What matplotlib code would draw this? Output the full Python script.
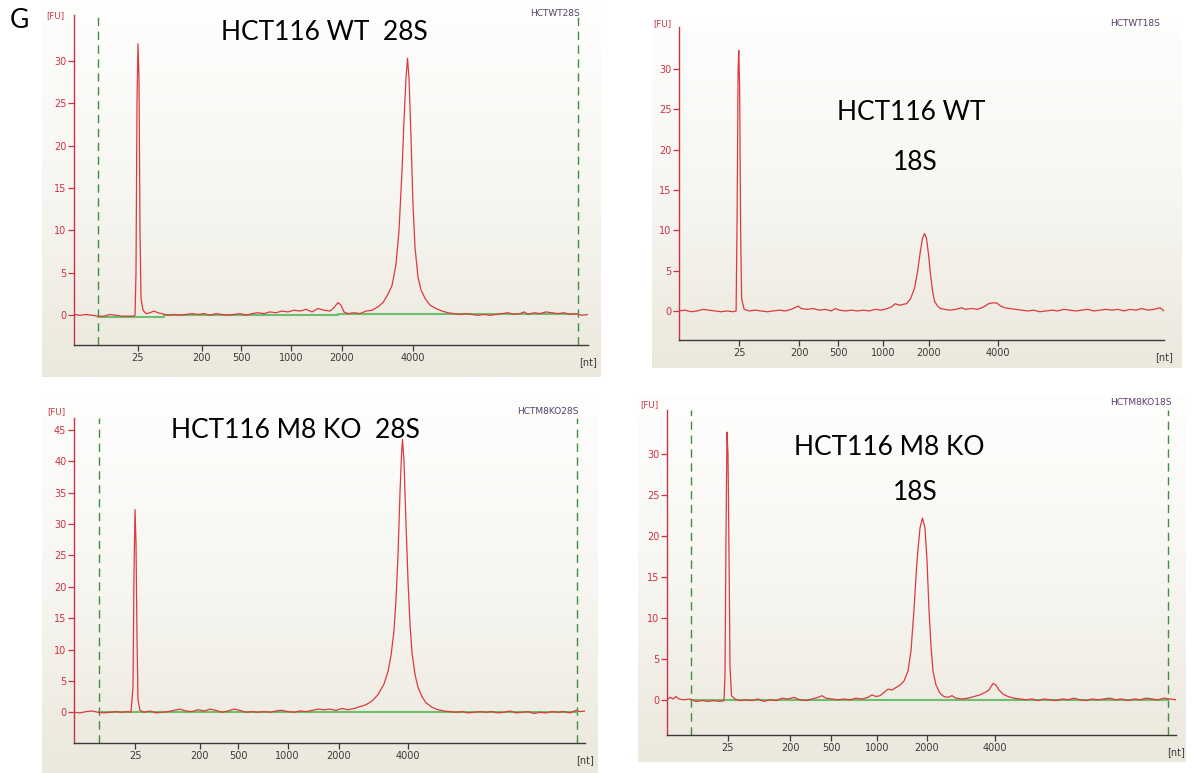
import matplotlib
matplotlib.use('Agg')
import matplotlib.pyplot as plt
from matplotlib.colors import LinearSegmentedColormap
import numpy as np

W, H = 1192, 773

nt_labels = ['25', '200', '500', '1000', '2000', '4000']

# ---- HCT116 WT 28S (migration time [s], fluorescence [FU])
a_t = [18.0, 18.6, 19.2, 19.8, 20.4, 21.0, 21.6, 22.2, 22.8, 23.4, 23.9, 24.1, 24.2, 24.3, 24.4,
       24.5, 24.6, 24.7, 24.9, 25.2, 25.6, 26.0, 26.4, 26.8, 27.4, 28.0, 28.6, 29.2, 29.8, 30.4,
       31.0, 31.6, 32.2, 32.8, 33.4, 34.0, 34.6, 35.2, 35.8, 36.4, 37.0, 37.6, 38.2, 38.8, 39.4,
       40.0, 40.6, 41.2, 41.8, 42.4, 43.0, 43.6, 44.0, 44.4, 44.7, 45.0, 45.4, 46.0, 46.6, 47.2,
       47.8, 48.4, 48.9, 49.4, 49.8, 50.2, 50.5, 50.8, 51.0, 51.2, 51.35, 51.5, 51.7, 51.9, 52.1,
       52.4, 52.7, 53.1, 53.6, 54.2, 54.8, 55.4, 56.0, 56.6, 57.2, 57.8, 58.4, 59.0, 59.6, 60.2,
       60.8, 61.4, 62.0, 62.6, 63.0, 63.4, 64.0, 64.6, 65.2, 65.8, 66.4, 67.0, 67.6, 68.2, 68.8, 69.4]
a_fu = [0.1, 0.0, 0.1, 0.0, -0.1, -0.1, 0.1, 0.0, -0.1, -0.1, -0.1, 0.0, 5, 25, 32.0,
        28, 10, 2, 0.6, 0.2, 0.3, 0.5, 0.3, 0.2, 0.0, 0.1, 0.0, 0.1, 0.2, 0.1,
        0.2, 0.0, 0.2, 0.1, 0.0, 0.1, 0.2, 0.0, 0.2, 0.3, 0.2, 0.4, 0.3, 0.5, 0.4,
        0.6, 0.5, 0.7, 0.4, 0.8, 0.6, 0.5, 0.9, 1.5, 1.2, 0.4, 0.2, 0.3, 0.2, 0.5,
        0.6, 1.0, 1.5, 2.5, 3.5, 6, 10, 17, 23, 28, 30.3, 28, 21, 13, 8,
        4.5, 3, 2, 1.2, 0.8, 0.5, 0.3, 0.2, 0.1, 0.2, 0.1, 0.0, 0.1, 0.0, 0.1,
        0.2, 0.3, 0.1, 0.2, 0.4, 0.1, 0.3, 0.2, 0.4, 0.3, 0.2, 0.3, 0.1, 0.2, 0.0, 0.1]
a_ticks = [24.4, 30.8, 34.7, 39.7, 44.8, 51.9]
a_ladder = [20.45, 68.4]
a_base_t = [20.45, 27.0, 27.0, 44.4, 44.4, 68.4]
a_base_fu = [-0.2, -0.2, 0.0, 0.0, 0.2, 0.2]

# ---- HCT116 WT 18S
b_t = [18.0, 18.6, 19.2, 19.8, 20.4, 21.0, 21.6, 22.2, 22.8, 23.4, 23.7, 23.8, 23.9, 23.96, 24.05,
       24.15, 24.25, 24.5, 25.0, 25.6, 26.2, 26.8, 27.4, 28.0, 28.6, 29.2, 29.9, 30.2, 30.8, 31.4,
       32.0, 32.6, 33.2, 33.6, 34.0, 34.6, 35.2, 35.8, 36.4, 37.0, 37.6, 38.2, 38.8, 39.2, 39.6,
       40.0, 40.3, 40.7, 41.1, 41.5, 41.8, 42.1, 42.3, 42.5, 42.7, 42.9, 43.1, 43.3, 43.5, 43.8,
       44.1, 44.5, 45.0, 45.6, 46.2, 46.6, 47.2, 47.8, 48.4, 48.9, 49.3, 49.7, 50.1, 50.5, 51.0,
       51.6, 52.2, 52.8, 53.4, 54.0, 54.6, 55.2, 55.8, 56.4, 57.0, 57.6, 58.2, 58.8, 59.4, 60.0,
       60.6, 61.2, 61.8, 62.4, 63.0, 63.6, 64.2, 64.8, 65.4, 66.0, 66.4]
b_fu = [0.0, 0.1, -0.1, 0.0, 0.2, 0.1, 0.0, -0.1, 0.0, -0.1, 0.0, 12, 30, 32.3, 28,
        10, 1.5, 0.2, 0.0, 0.1, 0.0, -0.1, 0.0, 0.1, 0.0, 0.2, 0.6, 0.3, 0.2, 0.3,
        0.1, 0.2, 0.0, 0.3, 0.1, 0.0, 0.1, 0.0, 0.1, 0.0, 0.2, 0.1, 0.3, 0.5, 0.9,
        0.7, 0.8, 0.9, 1.5, 2.8, 4.8, 7.5, 9.0, 9.6, 9.0, 7.0, 4.5, 2.5, 1.2, 0.6,
        0.3, 0.2, 0.1, 0.2, 0.4, 0.2, 0.3, 0.2, 0.5, 0.9, 1.0, 1.0, 0.6, 0.4, 0.3,
        0.2, 0.1, 0.0, 0.1, -0.1, 0.0, 0.1, 0.0, 0.2, 0.1, 0.0, 0.1, 0.2, 0.0, 0.1,
        0.2, 0.1, 0.2, 0.0, 0.2, 0.1, 0.3, 0.1, 0.2, 0.4, 0.0]
b_ticks = [24.0, 30.0, 33.9, 38.4, 42.9, 49.8]

# ---- HCT116 M8 KO 28S
c_t = [18.0, 18.6, 19.2, 19.8, 20.4, 21.0, 21.6, 22.2, 22.8, 23.4, 23.7, 23.9, 24.0, 24.1, 24.2,
       24.3, 24.4, 24.6, 25.0, 25.6, 26.2, 26.8, 27.4, 28.0, 28.6, 29.2, 29.8, 30.4, 31.0, 31.6,
       32.2, 32.8, 33.4, 34.0, 34.6, 35.2, 35.8, 36.4, 37.0, 37.6, 38.2, 38.8, 39.4, 40.0, 40.6,
       41.2, 41.8, 42.4, 43.0, 43.6, 44.2, 44.8, 45.4, 46.0, 46.6, 47.2, 47.8, 48.4, 49.0, 49.4,
       49.7, 50.0, 50.2, 50.4, 50.6, 50.75, 50.85, 51.0, 51.2, 51.4, 51.6, 51.8, 52.1, 52.4, 52.8,
       53.2, 53.8, 54.4, 55.0, 55.6, 56.2, 56.8, 57.4, 58.0, 58.6, 59.2, 59.8, 60.4, 61.0, 61.6,
       62.2, 62.8, 63.4, 64.0, 64.6, 65.2, 65.8, 66.4, 67.0, 67.6, 68.2, 68.6, 69.1]
c_fu = [0.0, -0.1, 0.1, 0.2, 0.0, -0.1, 0.0, 0.1, 0.0, 0.1, 0.0, 4, 22, 32.3, 27,
        12, 2, 0.3, 0.0, 0.2, -0.1, 0.0, 0.1, 0.3, 0.5, 0.2, 0.1, 0.4, 0.2, 0.5,
        0.3, 0.0, 0.2, 0.5, 0.3, 0.0, 0.1, 0.0, 0.1, 0.0, 0.2, 0.3, 0.1, 0.0, 0.2,
        0.1, 0.3, 0.5, 0.4, 0.5, 0.3, 0.6, 0.4, 0.6, 0.9, 1.2, 1.8, 2.8, 4.5, 6.5,
        9, 13, 18, 25, 35, 41, 43.5, 40, 30, 21, 14, 9.5, 6, 4, 2.5,
        1.5, 0.8, 0.4, 0.2, 0.1, 0.0, 0.1, -0.1, 0.0, 0.1, 0.0, 0.1, -0.1, 0.0, 0.2,
        -0.1, 0.0, 0.1, -0.2, 0.0, -0.1, 0.1, 0.0, 0.1, -0.1, 0.3, 0.1, 0.2]
c_ticks = [24.1, 30.55, 34.4, 39.35, 44.5, 51.35]
c_ladder = [20.45, 68.3]
c_base_t = [20.45, 68.3]
c_base_fu = [0.0, 0.0]

# ---- HCT116 M8 KO 18S
d_t = [18.0, 18.3, 18.6, 18.9, 19.2, 19.7, 20.3, 20.9, 21.5, 22.1, 22.7, 23.3, 23.7, 23.8, 23.9,
       24.0, 24.1, 24.2, 24.3, 24.45, 24.8, 25.3, 25.9, 26.5, 27.1, 27.7, 28.3, 28.9, 29.5, 30.1,
       30.7, 31.3, 31.9, 32.5, 33.1, 33.5, 33.9, 34.5, 35.1, 35.7, 36.3, 36.9, 37.5, 38.1, 38.5,
       38.9, 39.3, 39.7, 40.1, 40.5, 40.9, 41.3, 41.7, 42.1, 42.4, 42.7, 43.0, 43.3, 43.55, 43.8,
       44.0, 44.2, 44.4, 44.6, 44.9, 45.3, 45.7, 46.1, 46.5, 46.9, 47.5, 48.1, 48.7, 49.3, 49.8,
       50.2, 50.6, 50.9, 51.2, 51.6, 52.1, 52.7, 53.3, 53.9, 54.5, 55.1, 55.7, 56.3, 56.9, 57.5,
       58.1, 58.7, 59.3, 59.9, 60.5, 61.1, 61.7, 62.3, 62.9, 63.5, 64.1, 64.7, 65.3, 65.9, 66.5,
       67.1, 67.7, 68.3, 68.9]
d_fu = [0.0, 0.3, 0.1, 0.4, 0.1, 0.0, 0.1, -0.2, -0.1, -0.2, -0.1, -0.2, -0.1, 3, 20,
        32.7, 30, 18, 4, 0.5, 0.1, -0.1, 0.0, -0.1, 0.1, -0.2, 0.0, -0.1, 0.2, 0.1,
        0.3, 0.0, -0.1, 0.1, 0.3, 0.5, 0.2, 0.1, 0.0, 0.1, 0.0, 0.2, 0.1, 0.3, 0.6,
        0.4, 0.5, 0.9, 1.3, 1.2, 1.5, 1.8, 2.3, 3.5, 6, 11, 17, 21, 22.2, 21,
        17, 11, 6.5, 3.5, 1.8, 0.8, 0.4, 0.3, 0.5, 0.2, 0.1, 0.2, 0.4, 0.6, 0.9,
        1.2, 2.0, 1.8, 1.2, 0.7, 0.4, 0.2, 0.1, 0.0, 0.1, -0.1, 0.1, 0.0, -0.1, 0.1,
        0.0, 0.2, 0.0, -0.1, 0.1, 0.0, 0.1, 0.2, 0.0, 0.1, -0.1, 0.1, 0.0, 0.2, 0.1,
        0.0, 0.2, 0.1, 0.0]
d_ticks = [24.05, 30.3, 34.4, 39.0, 44.0, 50.8]
d_ladder = [20.35, 68.1]
d_base_t = [20.35, 68.1]
d_base_fu = [0.0, 0.0]

RED = '#dc3a3e'
AXRED = '#cc3344'
GREEN_D = '#3f8f3f'
GREEN_B = '#6cbf6c'
GREY = '#3a3a3a'

plt.rcParams['font.family'] = ['DejaVu Sans']

fig = plt.figure(figsize=(W / 100, H / 100), dpi=100)
fig.patch.set_facecolor('white')

grad_cmap = LinearSegmentedColormap.from_list('bg', ['#fefefd', '#f7f6f2', '#ebe8dc'])


def box(left, top, right, bottom):
    return [left / W, 1 - bottom / H, (right - left) / W, (bottom - top) / H]


def fx(px):
    return px / W


def fy(py):
    return 1 - py / H


def panel(bg_box, ax_box, t, fu, ticks, xlim, ylim, ytop, sample, sample_xy, fu_xy,
          ladder=None, base_t=None, base_fu=None):
    bg = fig.add_axes(box(*bg_box))
    bg.imshow(np.linspace(0, 1, 200).reshape(-1, 1), aspect='auto', cmap=grad_cmap,
              extent=[0, 1, 0, 1], origin='upper')
    bg.axis('off')

    ax = fig.add_axes(box(*ax_box))
    ax.set_facecolor('none')
    if ladder is not None:
        for x in ladder:
            ax.axvline(x, color=GREEN_D, lw=1.0, ls=(0, (6, 4)), zorder=1)
        ax.plot(base_t, base_fu, color=GREEN_B, lw=1.5, zorder=2)
    ax.plot(t, fu, color=RED, lw=0.9, zorder=3)
    ax.set_xlim(*xlim)
    ax.set_ylim(*ylim)
    for s in ['top', 'right']:
        ax.spines[s].set_visible(False)
    ax.spines['left'].set_color(AXRED)
    ax.spines['left'].set_linewidth(1.0)
    ax.spines['bottom'].set_color(GREY)
    ax.spines['bottom'].set_linewidth(1.0)
    ax.set_xticks(ticks)
    ax.set_xticklabels(nt_labels)
    ax.set_yticks(np.arange(0, ytop + 1, 5))
    ax.tick_params(axis='y', colors=AXRED, labelsize=7, length=4, width=0.9, pad=1.5)
    ax.tick_params(axis='x', colors=GREY, labelsize=7, length=4, width=0.9, pad=2)
    ax.annotate('[nt]', xy=(1.0, 0), xycoords='axes fraction', xytext=(0, -9),
                textcoords='offset points', ha='center', va='top', fontsize=7, color=GREY)
    fig.text(fx(fu_xy[0]), fy(fu_xy[1]), '[FU]', ha='center', va='center', fontsize=6.2, color=AXRED)
    fig.text(fx(sample_xy[0]), fy(sample_xy[1]), sample, ha='center', va='center',
             fontsize=6.5, color='#5a3c6c')
    return ax


panel((42, 2, 600, 377), (74, 15, 588, 345), a_t, a_fu, a_ticks, (18.0, 69.4), (-3.5, 35.4), 30,
      'HCTWT28S', (555, 14), (55, 16), a_ladder, a_base_t, a_base_fu)
panel((652, 16, 1182, 368), (679, 27, 1164, 340), b_t, b_fu, b_ticks, (18.0, 66.4), (-3.6, 35.2), 30,
      'HCTWT18S', (1135, 23), (662, 24))
panel((42, 392, 598, 773), (74, 418, 585, 743), c_t, c_fu, c_ticks, (18.0, 69.1), (-4.9, 46.9), 45,
      'HCTM8KO28S', (548, 412), (56, 412), c_ladder, c_base_t, c_base_fu)
panel((638, 395, 1186, 762), (667, 410, 1176, 735), d_t, d_fu, d_ticks, (18.0, 68.9), (-4.3, 35.4), 30,
      'HCTM8KO18S', (1141, 403), (649, 405), d_ladder, d_base_t, d_base_fu)

tkw = dict(ha='center', va='center', fontsize=19, color='black', family=['Lato', 'DejaVu Sans'])
fig.text(fx(19), fy(21), 'G', **tkw)
fig.text(fx(324), fy(33), 'HCT116 WT  28S', **tkw)
fig.text(fx(911), fy(113), 'HCT116 WT', **tkw)
fig.text(fx(915), fy(162), '18S', **tkw)
fig.text(fx(295), fy(430), 'HCT116 M8 KO  28S', **tkw)
fig.text(fx(889), fy(448), 'HCT116 M8 KO', **tkw)
fig.text(fx(915), fy(492), '18S', **tkw)

fig.savefig('out.png', dpi=100)
